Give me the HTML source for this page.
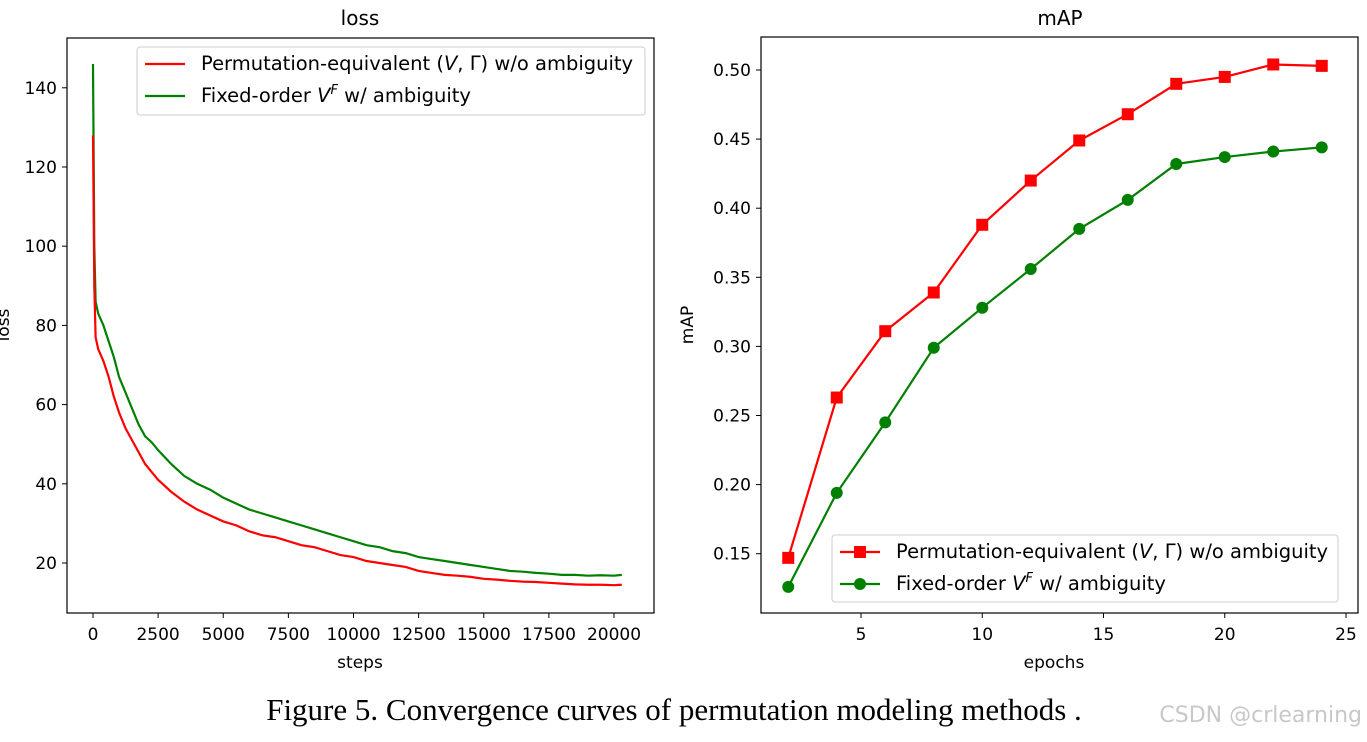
<!DOCTYPE html>
<html><head><meta charset="utf-8"><style>
body{margin:0;background:#fff;width:1367px;height:737px;overflow:hidden}
svg text{font-family:"DejaVu Sans","Liberation Sans",sans-serif;fill:#000}
</style></head><body>
<svg id="fig" width="1367" height="737" xmlns="http://www.w3.org/2000/svg"></svg>
<script>
const lossSteps=[0,50,100,200,400,600,800,1000,1250,1500,1750,2000,2250,2500,3000,3500,4000,4500,5000,5500,6000,6500,7000,7500,8000,8500,9000,9500,10000,10500,11000,11500,12000,12500,13000,13500,14000,14500,15000,15500,16000,16500,17000,17500,18000,18500,19000,19500,20000,20300];
const lossRed=[128,90,77,74,71,67,62,58,54,51,48,45,43,41,38,35.5,33.5,32,30.5,29.5,28,27,26.5,25.5,24.5,24,23,22,21.5,20.5,20,19.5,19,18,17.5,17,16.8,16.5,16,15.8,15.5,15.3,15.2,15,14.8,14.6,14.5,14.5,14.4,14.5];
const lossGreen=[146,100,86,83,80,76,72,67,63,59,55,52,50.5,48.5,45,42,40,38.5,36.5,35,33.5,32.5,31.5,30.5,29.5,28.5,27.5,26.5,25.5,24.5,24,23,22.5,21.5,21,20.5,20,19.5,19,18.5,18,17.8,17.5,17.3,17,17,16.8,16.9,16.8,17];
const lossXTicks=[0,2500,5000,7500,10000,12500,15000,17500,20000];
const lossYTicks=[20,40,60,80,100,120,140];
const epochs=[2,4,6,8,10,12,14,16,18,20,22,24];
const mapRed=[0.147,0.263,0.311,0.339,0.388,0.420,0.449,0.468,0.490,0.495,0.504,0.503];
const mapGreen=[0.126,0.194,0.245,0.299,0.328,0.356,0.385,0.406,0.432,0.437,0.441,0.444];
const mapXTicks=[5,10,15,20,25];
const mapYTicks=[0.15,0.20,0.25,0.30,0.35,0.40,0.45,0.50];

const svg=document.getElementById('fig');const NS='http://www.w3.org/2000/svg';
function mk(t,a,txt){const e=document.createElementNS(NS,t);for(const k in a)e.setAttribute(k,a[k]);if(txt!==undefined)e.textContent=txt;svg.appendChild(e);return e;}
const lx=v=>93+v*(521/20000), ly=v=>563-(v-20)*(79.2/20);
const mx=v=>861+(v-5)*24.25, my=v=>70-(v-0.5)*(69.1/0.05);

function axes(x0,y0,x1,y1,name){const r=mk('rect',{x:x0,y:y0,width:x1-x0,height:y1-y0,fill:'none',stroke:'#000','stroke-width':1.2});}
axes(67,38,654,613,'loss-axes');axes(761,37,1358,613,'map-axes');
lossXTicks.forEach(t=>{const x=lx(t);mk('line',{x1:x,x2:x,y1:613,y2:618,stroke:'#000'});const e=mk('text',{x:x,y:640,'font-size':17,'text-anchor':'middle'},String(t));});
lossYTicks.forEach(t=>{const y=ly(t);mk('line',{x1:62,x2:67,y1:y,y2:y,stroke:'#000'});const e=mk('text',{x:57,y:y+6,'font-size':17,'text-anchor':'end'},String(t));});
mapXTicks.forEach(t=>{const x=mx(t);mk('line',{x1:x,x2:x,y1:613,y2:618,stroke:'#000'});const e=mk('text',{x:x,y:640,'font-size':17,'text-anchor':'middle'},String(t));});
mapYTicks.forEach(t=>{const y=my(t);mk('line',{x1:756,x2:761,y1:y,y2:y,stroke:'#000'});const e=mk('text',{x:751,y:y+6,'font-size':17,'text-anchor':'end'},t.toFixed(2));});
function txt(x,y,s,name,extra){const e=mk('text',Object.assign({x:x,y:y,'font-size':18,'text-anchor':'middle'},extra||{}),s);return e;}
txt(360,25,'loss','loss-title',{'font-size':20});txt(1060,25,'mAP','map-title',{'font-size':20});
txt(360,668,'steps','loss-x-title',{'font-size':17});txt(1054,668,'epochs','map-x-title',{'font-size':17});
txt(0,0,'loss','loss-y-title',{'font-size':17,transform:'translate(9,325) rotate(-90)'});
txt(0,0,'mAP','map-y-title',{'font-size':17,transform:'translate(693,325) rotate(-90)'});

function line(xs,ys,fx,fy,col,name){const p=mk('polyline',{points:xs.map((x,i)=>fx(x)+','+fy(ys[i])).join(' '),fill:'none',stroke:col,'stroke-width':2.2});}
line(lossSteps,lossGreen,lx,ly,'#008000','loss-green-line');
line(lossSteps,lossRed,lx,ly,'#ff0000','loss-red-line');
line(epochs,mapRed,mx,my,'#ff0000','map-red-line');
line(epochs,mapGreen,mx,my,'#008000','map-green-line');
epochs.forEach((e,i)=>{const s=mk('rect',{x:mx(e)-6,y:my(mapRed[i])-6,width:12,height:12,fill:'#ff0000'});
const c=mk('circle',{cx:mx(e),cy:my(mapGreen[i]),r:6,fill:'#008000'});});

function legend(x,y,w,h,marker,name){const r=mk('rect',{x:x,y:y,width:w,height:h,fill:'#fff',stroke:'#ccc',rx:3});
['#ff0000','#008000'].forEach((col,i)=>{const yy=y+17+i*32;mk('line',{x1:x+8,x2:x+48,y1:yy,y2:yy,stroke:col,'stroke-width':2.2});
if(marker){if(i==0)mk('rect',{x:x+22,y:yy-6,width:12,height:12,fill:col});else mk('circle',{cx:x+28,cy:yy,r:6,fill:col});}
const t=mk('text',{x:x+64,y:yy+6,'font-size':19.5});
t.innerHTML=i==0?'Permutation-equivalent (<tspan font-style="italic">V</tspan>, Γ) w/o ambiguity':'Fixed-order <tspan font-style="italic">V</tspan><tspan font-style="italic" dy="-8" font-size="13">F</tspan><tspan dy="8"> w/ ambiguity</tspan>';});}
legend(137,47,508,68,false,'loss-legend');legend(832,535,506,67,true,'map-legend');
const cap=mk('text',{x:674,y:720,'font-size':31,'text-anchor':'middle',style:'font-family:"Liberation Serif",serif'},'Figure 5. Convergence curves of permutation modeling methods .');
const wm=mk('text',{x:1362,y:722,'font-size':22,'text-anchor':'end',style:'fill:#c8c8c8'},'CSDN @crlearning');
</script></body></html>
